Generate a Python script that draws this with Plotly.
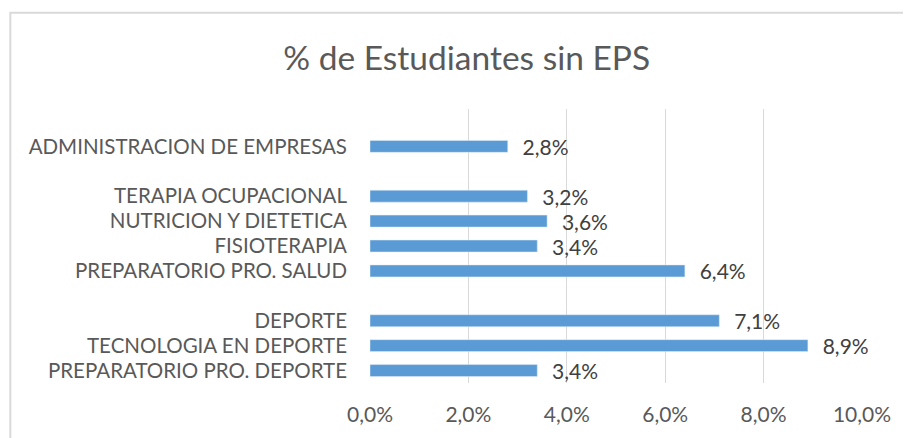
import plotly.graph_objects as go

# bottom to top, blank slots are the gaps between program groups
categories = ['PREPARATORIO PRO. DEPORTE', 'TECNOLOGIA EN DEPORTE', 'DEPORTE', ' ',
              'PREPARATORIO PRO. SALUD', 'FISIOTERAPIA', 'NUTRICION Y DIETETICA',
              'TERAPIA OCUPACIONAL', '  ', 'ADMINISTRACION DE EMPRESAS', '   ']
values = [0.034, 0.089, 0.071, None, 0.064, 0.034, 0.036, 0.032, None, 0.028, None]
tick_vals = [0, 0.02, 0.04, 0.06, 0.08, 0.10]

font = 'Lato, "Open Sans", sans-serif'

fig = go.Figure(go.Bar(
    x=values, y=categories, orientation='h',
    marker_color='#5B9BD5',
    texttemplate='\u2002\u200a%{x:.1%}', textposition='outside',
    constraintext='none',
    outsidetextfont=dict(family=font, size=21, color='#404040'),
    cliponaxis=False,
))

# page has an 8px body margin, so the figure is 8px smaller than the window
fig.update_layout(
    width=903, height=430,
    margin=dict(l=362, r=49, t=100.5, b=54.5, autoexpand=False),
    paper_bgcolor='white', plot_bgcolor='white',
    separators=',.',
    bargap=0.52,
    showlegend=False,
    title=dict(text='% de Estudiantes sin EPS', x=0.508, xanchor='center',
               y=0.882, yanchor='middle',
               font=dict(family=font, size=33.5, color='#595959')),
)
fig.update_xaxes(range=[0, 0.10], tickvals=tick_vals, tickformat='.1%',
                 showgrid=True, gridcolor='#D9D9D9', gridwidth=1.3,
                 zeroline=False, showline=False, ticks='',
                 ticklabelstandoff=17,
                 tickfont=dict(family=font, size=21, color='#595959'))
fig.update_yaxes(type='category', categoryorder='array', categoryarray=categories,
                 tickmode='array', tickvals=categories, ticktext=categories,
                 showgrid=False, zeroline=False, showline=False, ticks='',
                 ticklabelstandoff=22,
                 tickfont=dict(family=font, size=20.5, color='#595959'))

# chart area border like the spreadsheet frame
fig.add_shape(type='rect', xref='paper', yref='paper',
              x0=-0.731, x1=1.2, y0=-0.4, y1=1.351,
              line=dict(color='#D9D9D9', width=2), layer='below')

fig.write_html('out.html')
